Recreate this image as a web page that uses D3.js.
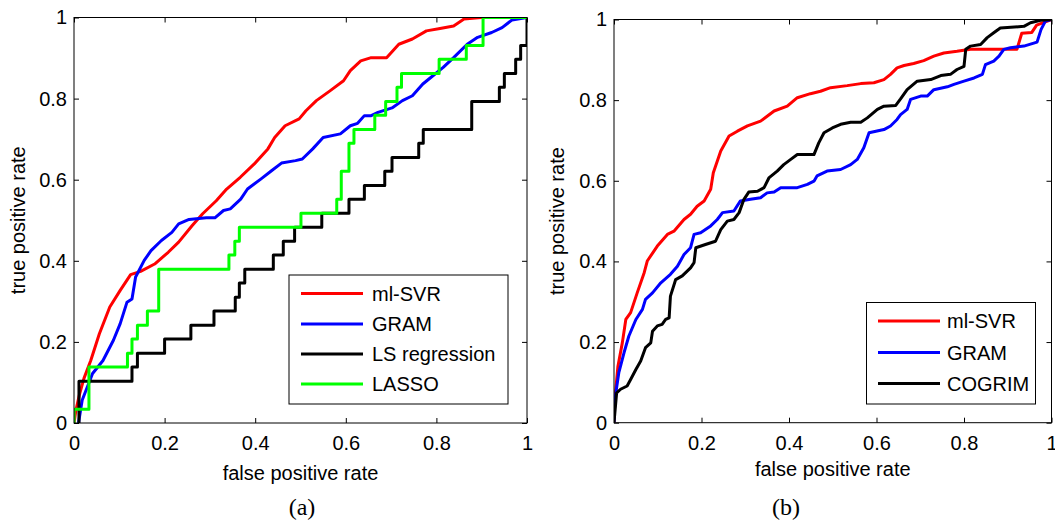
<!DOCTYPE html>
<html>
<head>
<meta charset="utf-8">
<script src="https://cdn.jsdelivr.net/npm/d3@7"></script>
<style>
  body { margin: 0; background: #fff; }
  text { font-family: "Liberation Sans", Arial, sans-serif; fill: #000; }
</style>
</head>
<body>
<div id="chart"></div>
<script>
// ---- data ----
const tickValues = [0, 0.2, 0.4, 0.6, 0.8, 1];
const tickLabels = ['0', '0.2', '0.4', '0.6', '0.8', '1'];

// panel (a)
const aSeriesNames = ['ml-SVR', 'GRAM', 'LS regression', 'LASSO'];
const aSvrFpr = [0, 0.004, 0.012, 0.022, 0.037, 0.056, 0.079, 0.102, 0.125, 0.147, 0.178, 0.208, 0.231, 0.261, 0.284, 0.314, 0.337, 0.367, 0.398, 0.428, 0.443, 0.466, 0.497, 0.512, 0.535, 0.565, 0.595, 0.61, 0.633, 0.656, 0.69, 0.717, 0.747, 0.778, 0.808, 0.838, 0.861, 0.899, 1];
const aSvrTpr = [0, 0.03, 0.07, 0.11, 0.154, 0.22, 0.286, 0.327, 0.366, 0.374, 0.392, 0.421, 0.446, 0.487, 0.516, 0.548, 0.577, 0.606, 0.639, 0.676, 0.704, 0.733, 0.75, 0.77, 0.795, 0.819, 0.844, 0.869, 0.893, 0.901, 0.901, 0.934, 0.947, 0.967, 0.973, 0.979, 0.996, 1, 1];
const aGramFpr = [0.01, 0.018, 0.041, 0.064, 0.087, 0.102, 0.117, 0.128, 0.136, 0.155, 0.17, 0.193, 0.216, 0.231, 0.254, 0.292, 0.311, 0.33, 0.345, 0.368, 0.383, 0.413, 0.436, 0.458, 0.489, 0.504, 0.527, 0.55, 0.588, 0.61, 0.626, 0.641, 0.656, 0.671, 0.702, 0.725, 0.747, 0.77, 0.793, 0.815, 0.838, 0.868, 0.891, 0.922, 0.945, 0.967, 1];
const aGramTpr = [0, 0.056, 0.122, 0.154, 0.204, 0.245, 0.298, 0.306, 0.36, 0.401, 0.425, 0.45, 0.47, 0.491, 0.502, 0.506, 0.506, 0.524, 0.528, 0.552, 0.577, 0.602, 0.622, 0.641, 0.647, 0.651, 0.676, 0.704, 0.713, 0.733, 0.739, 0.758, 0.758, 0.766, 0.777, 0.795, 0.807, 0.836, 0.857, 0.877, 0.901, 0.934, 0.951, 0.963, 0.975, 0.994, 1];
// step curves: horizontal first, then vertical
const aLsFpr = [0.011, 0.011, 0.128, 0.14, 0.2, 0.258, 0.309, 0.356, 0.365, 0.377, 0.44, 0.462, 0.487, 0.547, 0.607, 0.641, 0.686, 0.702, 0.761, 0.771, 0.878, 0.939, 0.95, 0.975, 0.986, 1];
const aLsTpr = [0, 0.103, 0.138, 0.172, 0.207, 0.241, 0.276, 0.310, 0.345, 0.379, 0.414, 0.448, 0.483, 0.517, 0.552, 0.586, 0.621, 0.655, 0.690, 0.724, 0.793, 0.828, 0.862, 0.897, 0.931, 1];
const aLassoFpr = [0, 0, 0.033, 0.118, 0.128, 0.14, 0.162, 0.187, 0.342, 0.355, 0.365, 0.501, 0.58, 0.59, 0.607, 0.618, 0.664, 0.688, 0.713, 0.723, 0.806, 0.866, 0.903, 1];
const aLassoTpr = [0, 0.034, 0.138, 0.172, 0.207, 0.241, 0.276, 0.379, 0.414, 0.448, 0.483, 0.517, 0.552, 0.621, 0.690, 0.724, 0.759, 0.793, 0.828, 0.862, 0.897, 0.931, 1, 1];

// panel (b)
const bSeriesNames = ['ml-SVR', 'GRAM', 'COGRIM'];
const bSvrFpr = [0, 0.002, 0.009, 0.019, 0.027, 0.038, 0.053, 0.069, 0.076, 0.099, 0.122, 0.137, 0.16, 0.175, 0.19, 0.206, 0.221, 0.227, 0.244, 0.263, 0.282, 0.305, 0.335, 0.35, 0.366, 0.396, 0.419, 0.449, 0.472, 0.495, 0.533, 0.564, 0.594, 0.617, 0.632, 0.647, 0.663, 0.685, 0.708, 0.731, 0.754, 0.784, 0.815, 0.876, 0.921, 0.932, 0.955, 0.966, 1];
const bSvrTpr = [0, 0.058, 0.14, 0.198, 0.256, 0.273, 0.322, 0.372, 0.401, 0.438, 0.467, 0.475, 0.504, 0.517, 0.537, 0.55, 0.579, 0.62, 0.674, 0.711, 0.723, 0.736, 0.748, 0.76, 0.773, 0.785, 0.806, 0.816, 0.822, 0.831, 0.836, 0.841, 0.843, 0.851, 0.864, 0.88, 0.886, 0.891, 0.898, 0.909, 0.917, 0.921, 0.926, 0.926, 0.926, 0.966, 0.968, 0.986, 1];
const bGramFpr = [0, 0.002, 0.011, 0.023, 0.034, 0.05, 0.065, 0.072, 0.088, 0.107, 0.129, 0.145, 0.16, 0.175, 0.183, 0.198, 0.221, 0.236, 0.248, 0.274, 0.289, 0.312, 0.335, 0.35, 0.366, 0.381, 0.419, 0.442, 0.457, 0.464, 0.487, 0.518, 0.541, 0.556, 0.571, 0.583, 0.617, 0.632, 0.647, 0.655, 0.67, 0.678, 0.701, 0.716, 0.731, 0.762, 0.777, 0.8, 0.823, 0.842, 0.849, 0.868, 0.88, 0.891, 0.906, 0.937, 0.967, 0.976, 0.986, 1];
const bGramTpr = [0, 0.058, 0.124, 0.174, 0.215, 0.256, 0.281, 0.306, 0.322, 0.347, 0.368, 0.388, 0.417, 0.434, 0.467, 0.471, 0.488, 0.504, 0.521, 0.525, 0.55, 0.554, 0.558, 0.57, 0.572, 0.583, 0.583, 0.591, 0.599, 0.612, 0.624, 0.628, 0.64, 0.653, 0.682, 0.719, 0.727, 0.736, 0.752, 0.764, 0.777, 0.802, 0.81, 0.81, 0.826, 0.833, 0.839, 0.847, 0.855, 0.864, 0.888, 0.897, 0.909, 0.926, 0.93, 0.934, 0.944, 0.975, 0.996, 1];
const bCogFpr = [0, 0.006, 0.015, 0.03, 0.038, 0.05, 0.061, 0.072, 0.084, 0.088, 0.099, 0.11, 0.118, 0.126, 0.129, 0.141, 0.156, 0.175, 0.183, 0.187, 0.209, 0.232, 0.244, 0.259, 0.274, 0.286, 0.297, 0.308, 0.328, 0.343, 0.354, 0.373, 0.388, 0.404, 0.419, 0.457, 0.468, 0.48, 0.499, 0.518, 0.541, 0.564, 0.579, 0.602, 0.617, 0.644, 0.655, 0.67, 0.693, 0.724, 0.747, 0.769, 0.784, 0.8, 0.804, 0.815, 0.838, 0.853, 0.868, 0.883, 0.937, 0.952, 0.975, 1];
const bCogTpr = [0, 0.074, 0.083, 0.091, 0.107, 0.132, 0.153, 0.186, 0.198, 0.227, 0.24, 0.244, 0.256, 0.26, 0.314, 0.355, 0.364, 0.384, 0.397, 0.434, 0.442, 0.45, 0.479, 0.5, 0.504, 0.521, 0.554, 0.572, 0.574, 0.583, 0.607, 0.624, 0.64, 0.653, 0.665, 0.665, 0.694, 0.719, 0.731, 0.74, 0.745, 0.745, 0.756, 0.777, 0.785, 0.787, 0.803, 0.826, 0.847, 0.851, 0.861, 0.864, 0.876, 0.884, 0.926, 0.934, 0.938, 0.955, 0.967, 0.979, 0.983, 0.992, 0.998, 1];

const colors = ['#ff0000', '#0000ff', '#000000', '#00ff00'];

// ---- drawing ----
const W = 1055, H = 523;
const svg = d3.select('#chart').append('svg')
    .attr('width', W)
    .attr('height', H)
    .style('background', '#fff');

function zip(xs, ys) {
    return xs.map((x, i) => [x, ys[i]]);
}

function drawPanel(opt) {
    const x = d3.scaleLinear().domain([0, 1]).range([opt.left, opt.right]);
    const y = d3.scaleLinear().domain([0, 1]).range([opt.bottom, opt.top]);
    const g = svg.append('g');

    const clipId = 'clip-' + opt.id;
    g.append('clipPath').attr('id', clipId)
        .append('rect')
        .attr('x', opt.left).attr('y', opt.top)
        .attr('width', opt.right - opt.left).attr('height', opt.bottom - opt.top);

    const fmt = (d, i) => tickLabels[i];
    // labelled bottom / left axes, ticks pointing inwards
    const xAxis = g.append('g').attr('transform', `translate(0,${opt.bottom})`)
        .call(d3.axisBottom(x).tickValues(tickValues).tickFormat(fmt)
            .tickSizeInner(-5).tickSizeOuter(0).tickPadding(13));
    const yAxis = g.append('g').attr('transform', `translate(${opt.left},0)`)
        .call(d3.axisLeft(y).tickValues(tickValues).tickFormat(fmt)
            .tickSizeInner(-5).tickSizeOuter(0).tickPadding(7));
    // top / right ticks only
    g.append('g').attr('transform', `translate(0,${opt.top})`)
        .call(d3.axisTop(x).tickValues(tickValues).tickFormat('')
            .tickSizeInner(-5).tickSizeOuter(0));
    g.append('g').attr('transform', `translate(${opt.right},0)`)
        .call(d3.axisRight(y).tickValues(tickValues).tickFormat('')
            .tickSizeInner(-5).tickSizeOuter(0));
    g.selectAll('.domain').remove();
    g.selectAll('.tick line').attr('stroke', '#000');
    g.selectAll('.tick text')
        .style('font-size', '20px')
        .style('font-family', '"Liberation Sans", Arial, sans-serif')
        .attr('fill', '#000');

    // curves
    const plot = g.append('g').attr('clip-path', `url(#${clipId})`);
    opt.series.forEach((s, i) => {
        const line = d3.line()
            .x(d => x(d[0]))
            .y(d => y(d[1]))
            .curve(s.step ? d3.curveStepAfter : d3.curveLinear);
        plot.append('path')
            .datum(zip(s.fpr, s.tpr))
            .attr('fill', 'none')
            .attr('stroke', colors[i])
            .attr('stroke-width', 3)
            .attr('stroke-linejoin', 'round')
            .attr('d', line);
    });

    // axes box
    g.append('rect')
        .attr('x', opt.left).attr('y', opt.top)
        .attr('width', opt.right - opt.left).attr('height', opt.bottom - opt.top)
        .attr('fill', 'none')
        .attr('stroke', '#000')
        .attr('stroke-width', 1);

    // axis titles
    g.append('text')
        .attr('x', (opt.left + opt.right) / 2)
        .attr('y', opt.xTitleY)
        .attr('text-anchor', 'middle')
        .style('font-size', '20px')
        .text('false positive rate');
    g.append('text')
        .attr('transform', `translate(${opt.yTitleX},${(opt.top + opt.bottom) / 2}) rotate(-90)`)
        .attr('text-anchor', 'middle')
        .style('font-size', '20px')
        .text('true positive rate');

    // caption
    g.append('text')
        .attr('x', opt.capX)
        .attr('y', 515)
        .attr('text-anchor', 'middle')
        .style('font-family', '"Liberation Serif", "Times New Roman", serif')
        .style('font-size', '24px')
        .text(opt.caption);

    // legend
    const lg = opt.legend;
    g.append('rect')
        .attr('x', lg.x0).attr('y', lg.y0)
        .attr('width', lg.x1 - lg.x0).attr('height', lg.y1 - lg.y0)
        .attr('fill', '#fff')
        .attr('stroke', '#000');
    opt.series.forEach((s, i) => {
        const ry = lg.rows[i];
        g.append('line')
            .attr('x1', lg.lineX0).attr('x2', lg.lineX1)
            .attr('y1', ry).attr('y2', ry)
            .attr('stroke', colors[i])
            .attr('stroke-width', 3);
        g.append('text')
            .attr('x', lg.textX)
            .attr('y', ry)
            .attr('dy', '0.36em')
            .style('font-size', '20px')
            .text(s.name);
    });
}

drawPanel({
    id: 'a',
    left: 74, right: 527, top: 17.5, bottom: 423,
    xTitleY: 480, yTitleX: 25, capX: 302, caption: '(a)',
    series: [
        { name: aSeriesNames[0], fpr: aSvrFpr, tpr: aSvrTpr },
        { name: aSeriesNames[1], fpr: aGramFpr, tpr: aGramTpr },
        { name: aSeriesNames[2], fpr: aLsFpr, tpr: aLsTpr, step: true },
        { name: aSeriesNames[3], fpr: aLassoFpr, tpr: aLassoTpr, step: true }
    ],
    legend: { x0: 289, x1: 508, y0: 275, y1: 404, lineX0: 301, lineX1: 363, textX: 372, rows: [293.5, 324, 354, 384] }
});

drawPanel({
    id: 'b',
    left: 614, right: 1051.5, top: 19.5, bottom: 422.7,
    xTitleY: 476, yTitleX: 564, capX: 786, caption: '(b)',
    series: [
        { name: bSeriesNames[0], fpr: bSvrFpr, tpr: bSvrTpr },
        { name: bSeriesNames[1], fpr: bGramFpr, tpr: bGramTpr },
        { name: bSeriesNames[2], fpr: bCogFpr, tpr: bCogTpr }
    ],
    legend: { x0: 866.5, x1: 1035.5, y0: 302.5, y1: 404, lineX0: 878, lineX1: 940, textX: 947, rows: [321, 352.5, 383.5] }
});
</script>
</body>
</html>
